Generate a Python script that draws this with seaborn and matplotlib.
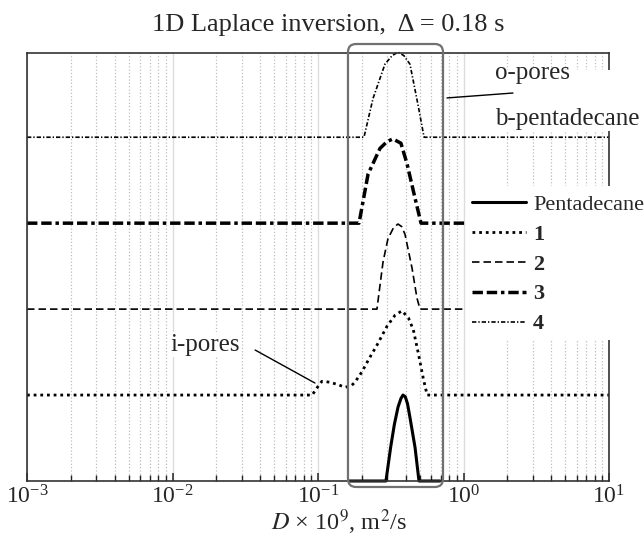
import numpy as np
import pandas as pd
import matplotlib
matplotlib.use('Agg')
import matplotlib.pyplot as plt
from matplotlib.patches import Rectangle, FancyBboxPatch
from matplotlib.ticker import LogLocator
import seaborn as sns

# ── Data (log10 of D*1e9, normalised amplitude) ──────────────
penta_logd = [-0.787, -0.533, -0.50, -0.475, -0.45, -0.43, -0.416, -0.40, -0.385,
              -0.368, -0.333, -0.306, -0.162]
penta_amp  = [0.0, 0.0, 0.40, 0.66, 0.86, 0.96, 1.00, 0.98, 0.90,
              0.74, 0.39, 0.0, 0.0]

s1_logd = [-3.0, -1.04, -1.0, -0.973, -0.92, -0.86, -0.815, -0.77, -0.746, -0.698,
           -0.65, -0.595, -0.526, -0.47, -0.423, -0.379, -0.345, -0.311, -0.276, -0.25, 1.0]
s1_amp  = [0.0, 0.0, 0.10, 0.16, 0.15, 0.12, 0.09, 0.11, 0.15, 0.27,
           0.42, 0.58, 0.80, 0.93, 0.98, 0.90, 0.76, 0.49, 0.19, 0.0, 0.0]

s2_logd = [-3.0, -0.595, -0.553, -0.519, -0.48, -0.45, -0.425, -0.402, -0.354, -0.32, -0.299, 1.0]
s2_amp  = [0.0, 0.0, 0.55, 0.82, 0.95, 0.99, 0.96, 0.87, 0.48, 0.13, 0.0, 0.0]

s3_logd = [-3.0, -0.718, -0.656, -0.574, -0.525, -0.485, -0.43, -0.388, -0.333, -0.292, 1.0]
s3_amp  = [0.0, 0.0, 0.57, 0.87, 0.95, 0.98, 0.93, 0.69, 0.29, 0.0, 0.0]

s4_logd = [-3.0, -0.684, -0.622, -0.54, -0.49, -0.45, -0.41, -0.368, -0.313, -0.271, 1.0]
s4_amp  = [0.0, 0.0, 0.45, 0.85, 0.95, 0.99, 0.95, 0.85, 0.38, 0.0, 0.0]

offsets = [0, 1, 2, 3, 4]
labels  = ["Pentadecane", "1", "2", "3", "4"]

# ── Styling ────────────────────────────────────────────────
sns.set_theme(style="white")
plt.rcParams.update({"font.family": "Liberation Serif", "mathtext.fontset": "stix",
                     "xtick.bottom": True, "xtick.direction": "in",
                     "xtick.minor.visible": True})

series = [(penta_logd, penta_amp), (s1_logd, s1_amp), (s2_logd, s2_amp),
          (s3_logd, s3_amp), (s4_logd, s4_amp)]
styles = [dict(lw=2.2, linestyle="-"),
          dict(lw=2.0, linestyle=(0, (1, 1.4))),
          dict(lw=1.2, linestyle=(0, (4.5, 2.4))),
          dict(lw=2.5, linestyle=(0, (3, 1.1, 3, 1.1, 1, 1.1))),
          dict(lw=1.2, linestyle=(0, (2.6, 1.2, 0.8, 1.2)))]

fig = plt.figure(figsize=(6.44, 5.36), dpi=100)
ax = fig.add_axes([27/644, 55/536, 582/644, 428/536])

for (ld, amp), off, lab, st in zip(series, offsets, labels, styles):
    d = pd.DataFrame({"D": 10 ** np.array(ld), "y": np.array(amp) + off})
    sns.lineplot(data=d, x="D", y="y", ax=ax, color="black", label=lab,
                 estimator=None, sort=False, legend=False, clip_on=False, **st)

ax.set_xscale("log")
ax.set_xlim(1e-3, 1e1)
ax.set_ylim(0, 4.98)
ax.xaxis.set_major_locator(LogLocator(base=10, numticks=20))
ax.xaxis.set_minor_locator(LogLocator(base=10, subs=np.arange(2, 10), numticks=100))
ax.set_yticks([])
ax.set_ylabel("")
ax.set_axisbelow(True)
ax.grid(True, which="minor", axis="x", ls=":", color="#bdbdbd", lw=0.9)
ax.grid(True, which="major", axis="x", ls="-", color="#dcdcdc", lw=1.0)
for sp in ax.spines.values():
    sp.set_color("#333333")
    sp.set_linewidth(1.2)
ax.tick_params(axis="x", which="both", direction="in", bottom=True, top=False,
               labelbottom=True, color="#222222")
ax.tick_params(axis="x", which="major", length=6, width=1.1, labelsize=17, pad=3)
ax.tick_params(axis="x", which="minor", length=4, width=1.0)

ax.set_xlabel(r"$D$ × 10$^9$, m$^2$/s", fontsize=17.5)
ax.xaxis.label.set_va("baseline")
ax.xaxis.set_label_coords(0.536, -0.114)

fig.text(328.5/644, 1 - 25/536, "1D Laplace inversion,  Δ = 0.18 s",
         ha="center", va="center", fontsize=19)

# white masks behind labels / legend
ax.add_patch(Rectangle((0.7543, 0.3294), 0.31, 0.36, transform=ax.transAxes,
                       facecolor="white", edgecolor="none", clip_on=False, zorder=4))
ax.add_patch(Rectangle((0.7784, 0.8178), 0.29, 0.1425, transform=ax.transAxes,
                       facecolor="white", edgecolor="none", clip_on=False, zorder=4))

# rounded box around main peak
ax.add_patch(FancyBboxPatch((0.5515, -0.014), 0.1633, 1.035,
                            boxstyle="round,pad=0,rounding_size=0.014",
                            mutation_aspect=582/428, transform=ax.transAxes,
                            fill=False, ec="#707070", lw=1.6, clip_on=False, zorder=3))

# annotations
ax.text(0.804, 0.953, "o-pores", transform=ax.transAxes, fontsize=18,
        ha="left", va="center", zorder=6)
ax.text(0.804, 0.846, "b-pentadecane", transform=ax.transAxes, fontsize=18,
        ha="left", va="center", zorder=6)
ax.annotate("", xy=(0.7216, 0.895), xycoords="axes fraction",
            xytext=(0.835, 0.9065), textcoords="axes fraction",
            arrowprops=dict(arrowstyle="-", lw=1, color="black", shrinkA=0, shrinkB=0),
            zorder=6)
ax.text(0.2457, 0.318, "i-pores", transform=ax.transAxes, fontsize=18,
        ha="left", va="center", zorder=6,
        bbox=dict(facecolor="white", edgecolor="none", pad=1))
ax.annotate("", xy=(10 ** -1.021, 1.14), xycoords="data",
            xytext=(0.392, 0.306), textcoords="axes fraction",
            arrowprops=dict(arrowstyle="-", lw=1, color="black", shrinkA=0, shrinkB=0),
            zorder=6)

leg = ax.legend(loc="upper left", bbox_to_anchor=(0.7646, 0.670), frameon=False,
                fontsize=16, handlelength=2.45, handletextpad=0.3,
                labelspacing=0.42, borderpad=0, borderaxespad=0)
leg.set_zorder(5)
for t in leg.get_texts()[1:]:
    t.set_fontweight("bold")

fig.savefig("out.png", dpi=100)
